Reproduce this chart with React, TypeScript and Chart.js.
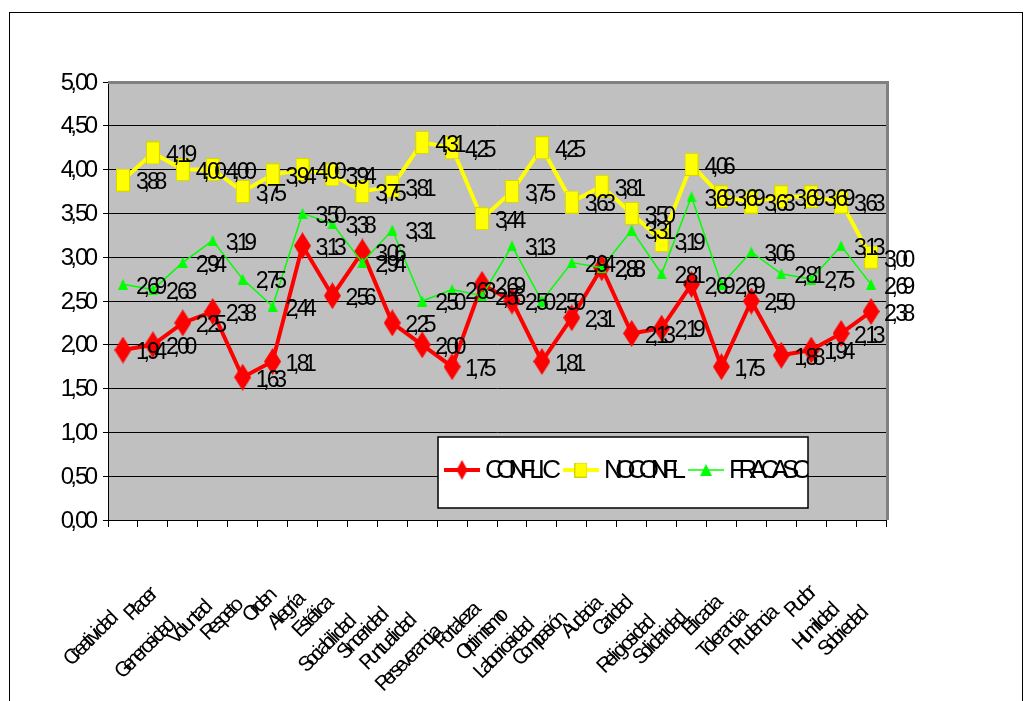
import React, { useEffect, useRef } from 'react';
import { Chart, registerables } from 'chart.js';

Chart.register(...registerables);

const categories = [
  'Creatividad', 'Placer', 'Generosidad', 'Voluntad', 'Respeto', 'Orden', 'Alegría',
  'Estética', 'Sociabilidad', 'Sinceridad', 'Puntualidad', 'Perseverancia', 'Fortaleza',
  'Optimismo', 'Laboriosidad', 'Compasión', 'Audacia', 'Caridad', 'Religiosidad',
  'Solidaridad', 'Eficacia', 'Tolerancia', 'Prudencia', 'Pudor', 'Humildad', 'Sobriedad',
];

const conflic = [
  1.94, 2.0, 2.25, 2.38, 1.63, 1.81, 3.13, 2.56, 3.06, 2.25, 2.0, 1.75, 2.69,
  2.5, 1.81, 2.31, 2.88, 2.13, 2.19, 2.69, 1.75, 2.5, 1.88, 1.94, 2.13, 2.38,
];
const noconfl = [
  3.88, 4.19, 4.0, 4.0, 3.75, 3.94, 4.0, 3.94, 3.75, 3.81, 4.31, 4.25, 3.44,
  3.75, 4.25, 3.63, 3.81, 3.5, 3.19, 4.06, 3.69, 3.63, 3.69, 3.69, 3.63, 3.0,
];
const fracaso = [
  2.69, 2.63, 2.94, 3.19, 2.75, 2.44, 3.5, 3.38, 2.94, 3.31, 2.5, 2.63, 2.56,
  3.13, 2.5, 2.94, 2.88, 3.31, 2.81, 3.69, 2.69, 3.06, 2.81, 2.75, 3.13, 2.69,
];

const seriesNames = ['CONFLIC', 'NOCONFL', 'FRACASO'];
const yMin = 0;
const yMax = 5;
const yStep = 0.5;

const FONT = '"Liberation Sans", Arial, sans-serif';

function squishWidth(ctx: CanvasRenderingContext2D, text: string, size: number, f: number) {
  ctx.font = `${size}px ${FONT}`;
  const chars = Array.from(text);
  let total = 0;
  chars.forEach((c, i) => {
    const w = ctx.measureText(c).width;
    total += i < chars.length - 1 ? w * f : w;
  });
  return total;
}

function drawSquish(
  ctx: CanvasRenderingContext2D,
  text: string,
  x: number,
  y: number,
  size: number,
  f: number,
  align: 'left' | 'right' = 'left'
) {
  ctx.font = `${size}px ${FONT}`;
  ctx.textAlign = 'left';
  const chars = Array.from(text);
  const total = squishWidth(ctx, text, size, f);
  let cx = align === 'right' ? x - total : x;
  chars.forEach((c) => {
    const w = ctx.measureText(c).width;
    ctx.fillText(c, cx, y);
    cx += w * f;
  });
  return total;
}

function makeDiamond(w: number, h: number, color: string) {
  const c = document.createElement('canvas');
  c.width = w;
  c.height = h;
  const g = c.getContext('2d')!;
  g.fillStyle = color;
  g.beginPath();
  g.moveTo(w / 2, 0);
  g.lineTo(w, h / 2);
  g.lineTo(w / 2, h);
  g.lineTo(0, h / 2);
  g.closePath();
  g.fill();
  return c;
}

function makeRect(w: number, h: number, color: string, stroke: string) {
  const c = document.createElement('canvas');
  c.width = w;
  c.height = h;
  const g = c.getContext('2d')!;
  g.fillStyle = color;
  g.fillRect(0, 0, w, h);
  g.strokeStyle = stroke;
  g.lineWidth = 1;
  g.strokeRect(0.5, 0.5, w - 1, h - 1);
  return c;
}

function makeTriangle(w: number, h: number, color: string) {
  const c = document.createElement('canvas');
  c.width = w;
  c.height = h;
  const g = c.getContext('2d')!;
  g.fillStyle = color;
  g.beginPath();
  g.moveTo(w / 2, 0);
  g.lineTo(w, h);
  g.lineTo(0, h);
  g.closePath();
  g.fill();
  return c;
}

const fmt = (v: number) => v.toFixed(2).replace('.', ',');

export default function App() {
  const ref = useRef<HTMLCanvasElement | null>(null);

  useEffect(() => {
    const canvas = ref.current;
    if (!canvas) return;

    const colors = ['#FF0000', '#FFFF00', '#00FF00'];
    const markers = [
      makeDiamond(17, 27, colors[0]),
      makeRect(14, 23, colors[1], '#D6D600'),
      makeTriangle(10, 11, colors[2]),
    ];
    const legendMarkers = [
      makeDiamond(11, 20, colors[0]),
      makeRect(13, 15, colors[1], '#D6D600'),
      makeTriangle(12, 12, colors[2]),
    ];
    const widths = [4, 4, 1.5];

    const plugin = {
      id: 'excelLook',
      beforeDraw(chart: any) {
        const { ctx, chartArea: a, width, height } = chart;
        ctx.save();
        ctx.fillStyle = '#FFFFFF';
        ctx.fillRect(0, 0, width, height);
        ctx.strokeStyle = '#000000';
        ctx.lineWidth = 1;
        ctx.strokeRect(9.5, 12.5, 1013, 700);
        ctx.fillStyle = '#C0C0C0';
        ctx.fillRect(a.left, a.top, a.right - a.left, a.bottom - a.top);
        ctx.restore();
      },
      beforeDatasetsDraw(chart: any) {
        const { ctx, chartArea: a } = chart;
        ctx.save();
        ctx.strokeStyle = '#808080';
        ctx.lineWidth = 3;
        ctx.beginPath();
        ctx.moveTo(a.left, a.top + 0.5);
        ctx.lineTo(a.right + 1.5, a.top + 0.5);
        ctx.lineTo(a.right + 1.5, a.bottom);
        ctx.stroke();
        ctx.restore();
      },
      afterDatasetsDraw(chart: any) {
        const { ctx } = chart;
        ctx.save();
        ctx.fillStyle = '#000000';
        ctx.textBaseline = 'middle';
        chart.data.datasets.forEach((ds: any, di: number) => {
          const meta = chart.getDatasetMeta(di);
          meta.data.forEach((pt: any, i: number) => {
            drawSquish(ctx, fmt(ds.data[i]), pt.x + 13, pt.y + 3, 23, 0.58);
          });
        });
        ctx.restore();
      },
      afterDraw(chart: any) {
        const { ctx, chartArea: a } = chart;
        const ys = chart.scales.y;
        const xs = chart.scales.x;
        ctx.save();
        ctx.fillStyle = '#000000';
        ctx.textBaseline = 'middle';
        // y tick labels
        ys.ticks.forEach((t: any) => {
          const py = ys.getPixelForValue(t.value);
          drawSquish(ctx, fmt(t.value), a.left - 10, py + 1, 24, 0.72, 'right');
        });
        // x category labels (rotated)
        categories.forEach((lab, i) => {
          const px = xs.getPixelForValue(i);
          const w = squishWidth(ctx, lab, 21, 0.6);
          const ex = px + 10 - 0.317 * w;
          const ey = a.bottom + 35 + 0.805 * w;
          ctx.save();
          ctx.translate(ex, ey);
          ctx.rotate(-Math.PI / 4);
          ctx.textBaseline = 'middle';
          drawSquish(ctx, lab, 0, 6, 21, 0.6, 'right');
          ctx.restore();
        });
        // legend
        const bx = 438, by = 437, bw = 370, bh = 71;
        ctx.fillStyle = '#FFFFFF';
        ctx.fillRect(bx, by, bw, bh);
        ctx.strokeStyle = '#000000';
        ctx.lineWidth = 1.5;
        ctx.strokeRect(bx, by, bw, bh);
        ctx.save();
        ctx.beginPath();
        ctx.rect(bx, by, bw, bh);
        ctx.clip();
        let x0 = bx + 6;
        const cy = by + 33;
        seriesNames.forEach((name, i) => {
          ctx.strokeStyle = colors[i];
          ctx.lineWidth = widths[i];
          ctx.beginPath();
          ctx.moveTo(x0, cy);
          ctx.lineTo(x0 + 36, cy);
          ctx.stroke();
          const m = legendMarkers[i];
          ctx.drawImage(m, x0 + 18 - m.width / 2, cy - m.height / 2);
          ctx.fillStyle = '#000000';
          const tw = drawSquish(ctx, name, x0 + 41, cy + 1, 26, 0.6);
          x0 = x0 + 41 + tw + 2;
        });
        ctx.restore();
        ctx.restore();
      },
    };

    const chart = new Chart(canvas, {
      type: 'line',
      data: {
        labels: categories,
        datasets: [
          { label: seriesNames[0], data: conflic, order: 3 },
          { label: seriesNames[1], data: noconfl, order: 2 },
          { label: seriesNames[2], data: fracaso, order: 1 },
        ].map((d, i) => ({
          ...d,
          borderColor: colors[i],
          backgroundColor: colors[i],
          borderWidth: widths[i],
          pointStyle: markers[i] as any,
          pointRadius: 6,
          pointHoverRadius: 6,
          tension: 0,
          fill: false,
        })),
      },
      options: {
        animation: false,
        responsive: false,
        maintainAspectRatio: false,
        events: [],
        layout: { padding: { left: 103, top: 82, right: 141, bottom: 174 } },
        plugins: { legend: { display: false }, tooltip: { enabled: false } },
        scales: {
          x: {
            offset: true,
            grid: {
              offset: true,
              drawOnChartArea: false,
              drawTicks: true,
              tickLength: 7,
              color: '#000000',
              lineWidth: 1,
            },
            border: { display: true, color: '#000000', width: 1 },
            ticks: { display: false },
          },
          y: {
            min: yMin,
            max: yMax,
            ticks: { display: false, stepSize: yStep },
            grid: { color: '#000000', lineWidth: 1, tickLength: 5, drawTicks: true },
            border: { display: true, color: '#000000', width: 1 },
          },
        },
      },
      plugins: [plugin],
    });

    return () => chart.destroy();
  }, []);

  return (
    <canvas
      ref={ref}
      width={1027}
      height={701}
      style={{ position: 'fixed', left: 0, top: 0, width: 1027, height: 701, display: 'block' }}
    />
  );
}
